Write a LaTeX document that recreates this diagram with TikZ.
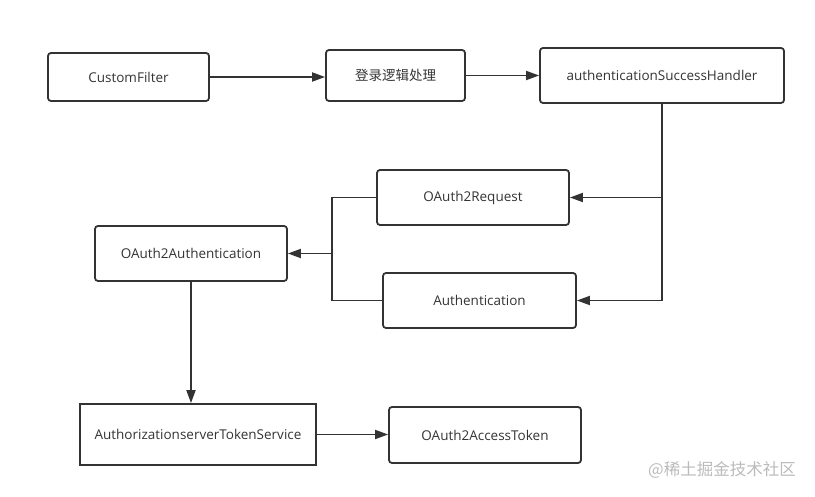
\documentclass[tikz,border=0pt]{standalone}
\usepackage{fontspec}
\setmainfont{Open Sans}
\newfontfamily\cjk{Noto Sans CJK SC}
\usetikzlibrary{arrows.meta}

\definecolor{linegray}{HTML}{333333}
\definecolor{markgray}{HTML}{BBBBBB}

\begin{document}
\begin{tikzpicture}[x=1pt, y=-1pt, line width=1.8pt, draw=linegray,
  box/.style={draw=linegray, rounded corners=3pt, font=\fontsize{13.5}{16}\selectfont, text=linegray, inner sep=0pt},
  flat box/.style={box, rounded corners=0pt},
  arr/.style={-{Triangle[length=13pt,width=9pt]}}]
\useasboundingbox (0,0) rectangle (815,497);
\node[box, minimum width=161, minimum height=48] (cf) at (128.5,77) {CustomFilter};
\node[box, minimum width=139, minimum height=51] (login) at (395.5,75.5) {\cjk 登录逻辑处理};
\node[box, minimum width=244, minimum height=55] (ash) at (662,75.5) {authenticationSuccessHandler};
\node[box, minimum width=192, minimum height=55] (req) at (473,197.5) {OAuth2Request};
\node[box, minimum width=192, minimum height=55] (oauth) at (191,253.5) {OAuth2Authentication};
\node[box, minimum width=193, minimum height=55] (auth) at (479.5,300.5) {Authentication};
\node[flat box, minimum width=236, minimum height=61] (tks) at (198,434.5) {AuthorizationserverTokenService};
\node[box, minimum width=192, minimum height=56] (tok) at (485,435) {OAuth2AccessToken};
\node[text=markgray, font=\cjk\fontsize{16.5}{19}\selectfont] (mark) at (722,470) {@稀土掘金技术社区};
\coordinate (jn) at (332,253.5);
\draw[arr] (cf.east) -- (cf.east -| login.west);
\draw[arr] (login) -- (ash);
\draw[arr] (ash.south) |- (req.east);
\draw[arr] (ash.south) |- (auth.east);
\draw (req.west) -| (jn) |- (auth.west);
\draw[arr] (jn) -- (oauth.east);
\draw[arr] (oauth.south) -- (oauth.south |- tks.north);
\draw[arr] (tks.east) -- (tks.east -| tok.west);
\end{tikzpicture}
\end{document}
